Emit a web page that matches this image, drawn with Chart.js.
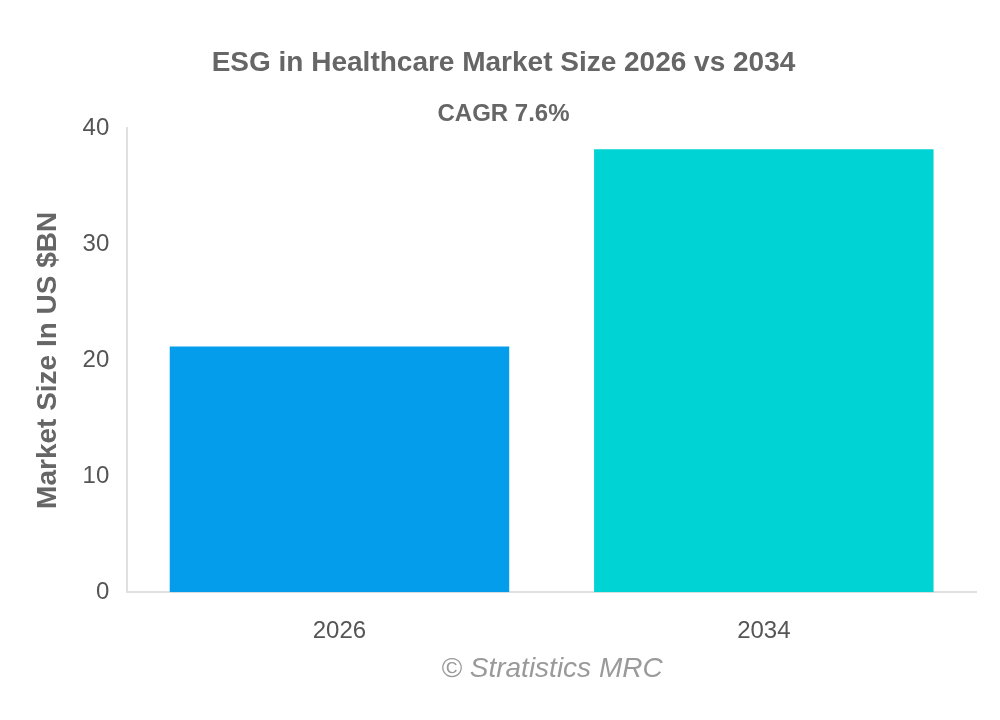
<!DOCTYPE html>
<html>
<head>
<meta charset="utf-8">
<script src="https://cdn.jsdelivr.net/npm/chart.js@4"></script>
<style>
  html, body { margin: 0; padding: 0; background: #fff; }
  #wrap { width: 1000px; height: 720px; }
</style>
</head>
<body>
<div id="wrap"><canvas id="MarketChart" width="1000" height="720"></canvas></div>
<script>
// chart values
const years = ["2026", "2034"];
const marketSize = [21.2, 38.2];
const barColors = ["#039deb", "#00d3d3"];
const chartTitle = "ESG in Healthcare Market Size 2026 vs 2034";
const cagrText = "CAGR 7.6%";
const yAxisTitle = "Market Size In US $BN";
const footerText = "\u00a9 Stratistics MRC";

const fontFamily = "'Liberation Sans', Arial, Helvetica, sans-serif";

// draws the copyright line under the x axis
const footerPlugin = {
  id: 'footerText',
  afterDraw: function (chart) {
    let ctx = chart.ctx;
    ctx.save();
    ctx.font = "italic 28px " + fontFamily;
    ctx.fillStyle = "#9a9a9a";
    ctx.textAlign = "center";
    ctx.textBaseline = "middle";
    ctx.fillText(footerText, 552, 669);
    ctx.restore();
  }
};

const config = {
  type: 'bar',
  data: {
    labels: years,
    datasets: [{
      label: "Market Size",
      data: marketSize,
      backgroundColor: barColors,
      borderWidth: 0,
      barPercentage: 0.8,
      categoryPercentage: 1.0
    }]
  },
  options: {
    responsive: false,
    animation: false,
    layout: {
      padding: { left: 31, right: 24, top: 46, bottom: 49 }
    },
    plugins: {
      legend: { display: false },
      tooltip: { enabled: false },
      title: {
        display: true,
        text: chartTitle,
        color: "#666666",
        font: { family: fontFamily, size: 28, weight: 'bold' },
        padding: { top: 0, bottom: 20 }
      },
      subtitle: {
        display: true,
        text: cagrText,
        color: "#666666",
        font: { family: fontFamily, size: 24, weight: 'bold' },
        padding: { top: 0, bottom: 0 }
      }
    },
    scales: {
      x: {
        grid: { display: false, drawTicks: false },
        border: { display: true, color: "#e0e0e0", width: 2 },
        ticks: {
          color: "#555555",
          font: { family: fontFamily, size: 24 },
          padding: 25
        }
      },
      y: {
        min: 0,
        max: 40,
        grid: { display: false, drawTicks: false },
        border: { display: true, color: "#e0e0e0", width: 2 },
        ticks: {
          stepSize: 10,
          color: "#555555",
          font: { family: fontFamily, size: 24 },
          padding: 18
        },
        title: {
          display: true,
          text: yAxisTitle,
          color: "#666666",
          font: { family: fontFamily, size: 28, weight: 'bold' },
          padding: { top: 0, bottom: 0 }
        }
      }
    }
  },
  plugins: [footerPlugin]
};

let myChart = new Chart(document.getElementById("MarketChart"), config);
</script>
</body>
</html>
